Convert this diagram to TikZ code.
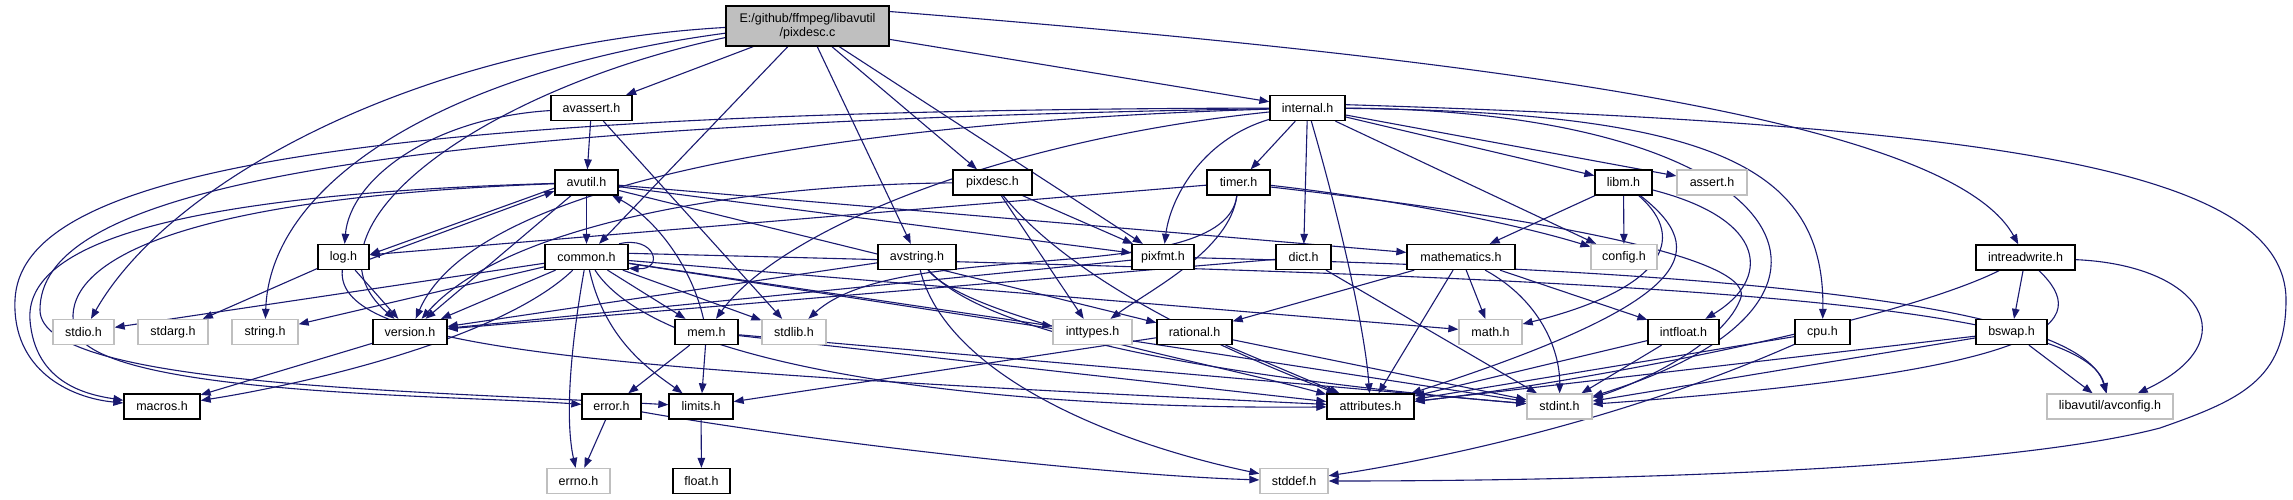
\documentclass[tikz,border=0pt]{standalone}
\usepackage{fontspec}
\setmainfont{Liberation Sans}
\usetikzlibrary{arrows.meta,backgrounds}
\definecolor{edgeblue}{HTML}{191970}
\definecolor{sysgray}{HTML}{BFBFBF}

\begin{document}
\begin{tikzpicture}[x=1pt, y=-1pt,
  hdr/.style={draw=black, line width=1.3pt, fill=white, minimum height=25pt, inner sep=0pt,
    font=\fontsize{12.5}{14}\selectfont},
  sys/.style={hdr, draw=sysgray},
  dep/.style={draw=edgeblue, line width=1.1pt, -{Triangle[length=10pt,width=7.5pt]}}]

% files
\node[hdr, fill=sysgray, minimum width=163pt, minimum height=40pt, align=center] (root) at (807.5,26) {E:/github/ffmpeg/libavutil\\/pixdesc.c};
\node[hdr, minimum width=81pt] (avassert) at (591.5,108) {avassert.h};
\node[hdr, minimum width=75pt] (internal) at (1307.5,108) {internal.h};
\node[hdr, minimum width=63pt] (avutil) at (586.5,182.5) {avutil.h};
\node[hdr, minimum width=79pt] (pixdesc) at (992.5,182.5) {pixdesc.h};
\node[hdr, minimum width=63pt] (timer) at (1238.5,182.5) {timer.h};
\node[hdr, minimum width=57pt] (libm) at (1623.5,182.5) {libm.h};
\node[sys, minimum width=70pt] (assert) at (1712,182.5) {assert.h};
\node[hdr, minimum width=51pt] (logh) at (343.5,257) {log.h};
\node[hdr, minimum width=83pt] (common) at (586.5,257) {common.h};
\node[hdr, minimum width=78pt] (avstring) at (917,257) {avstring.h};
\node[hdr, minimum width=62pt] (pixfmt) at (1163,257) {pixfmt.h};
\node[hdr, minimum width=55pt] (dict) at (1303.5,257) {dict.h};
\node[hdr, minimum width=108pt] (mathem) at (1461,257) {mathematics.h};
\node[sys, minimum width=66pt] (config) at (1624,257) {config.h};
\node[hdr, minimum width=99pt] (intrw) at (2025.5,257.5) {intreadwrite.h};
\node[sys, minimum width=61pt] (stdio) at (83.5,332) {stdio.h};
\node[sys, minimum width=70pt] (stdarg) at (173,332) {stdarg.h};
\node[sys, minimum width=66pt] (string) at (265,332) {string.h};
\node[hdr, minimum width=74pt] (version) at (410,332) {version.h};
\node[hdr, minimum width=63pt] (mem) at (706.5,332) {mem.h};
\node[sys, minimum width=64pt] (stdlib) at (794,332) {stdlib.h};
\node[sys, minimum width=79pt] (inttypes) at (1092.5,332) {inttypes.h};
\node[hdr, minimum width=75pt] (rational) at (1194.5,332) {rational.h};
\node[sys, minimum width=63pt] (math) at (1490.5,332) {math.h};
\node[hdr, minimum width=71pt] (intfloat) at (1683.5,332) {intfloat.h};
\node[hdr, minimum width=55pt] (cpu) at (1822.5,332) {cpu.h};
\node[hdr, minimum width=71pt] (bswap) at (2011.5,332) {bswap.h};
\node[hdr, minimum width=76pt] (macros) at (162,406.5) {macros.h};
\node[hdr, minimum width=59pt] (error) at (611.5,406.5) {error.h};
\node[hdr, minimum width=64pt] (limits) at (701,406.5) {limits.h};
\node[hdr, minimum width=87pt] (attrib) at (1370.5,406.5) {attributes.h};
\node[sys, minimum width=65pt] (stdint) at (1559.5,406.5) {stdint.h};
\node[sys, minimum width=126pt] (avconfig) at (2110,406.5) {libavutil/avconfig.h};
\node[sys, minimum width=63pt] (errno) at (578.5,481) {errno.h};
\node[hdr, minimum width=57pt] (float) at (701.5,481) {float.h};
\node[sys, minimum width=68pt] (stddef) at (1294,481) {stddef.h};

\begin{scope}[on background layer]
\fill[white] (0,0) rectangle (2293,500);
\useasboundingbox (0,0) rectangle (2293,500);

% pixdesc.c
\draw[dep] (root.181) .. controls (420,45) and (170,180) .. (stdio);
\draw[dep] (root.185) .. controls (450,70) and (270,180) .. (string);
\draw[dep] (root.188) .. controls (480,90) and (290,230) .. (version);
\draw[dep] (root) -- (avassert);
\draw[dep] (root) -- (common);
\draw[dep] (root) -- (avstring);
\draw[dep] (root) -- (pixdesc);
\draw[dep] (root) -- (pixfmt);
\draw[dep] (root) -- (internal);
\draw[dep] (root.10) .. controls (1500,60) and (1950,120) .. (intrw);

% avassert.h
\draw[dep] (avassert) -- (avutil);
\draw[dep] (avassert) .. controls (430,118) and (350,180) .. (logh);
\draw[dep] (avassert) -- (stdlib);

% internal.h
\draw[dep] (internal) -- (timer);
\draw[dep] (internal) -- (dict);
\draw[dep] (internal) .. controls (1340,220) and (1365,330) .. (attrib);
\draw[dep] (internal) .. controls (1200,140) and (1170,200) .. (pixfmt);
\draw[dep] (internal) .. controls (1000,140) and (780,230) .. (mem);
\draw[dep] (internal) .. controls (900,120) and (480,170) .. (version);
\draw[dep] (internal) .. controls (300,110) and (20,180) .. (15,300) .. controls (12,370) and (70,398) .. (macros);
\draw[dep] (internal) .. controls (300,125) and (40,200) .. (40,310) .. controls (40,385) and (400,390) .. (limits);
\draw[dep] (internal) -- (libm);
\draw[dep] (internal) -- (assert);
\draw[dep] (internal) -- (config);
\draw[dep] (internal) .. controls (1720,112) and (1825,170) .. (cpu);
\draw[dep] (internal) .. controls (1790,110) and (1905,300) .. (stdint);
\draw[dep] (internal.5) .. controls (2000,125) and (2286,170) .. (2286,300)
  .. controls (2286,380) and (2240,400) .. (2160,428) .. controls (2000,470) and (1600,481) .. (stddef);

% timer.h
\draw[dep] (timer) -- (logh);
\draw[dep] (timer) .. controls (1225,290) and (900,235) .. (stdlib);
\draw[dep] (timer) .. controls (1230,250) and (1150,290) .. (inttypes);
\draw[dep] (timer.-5) .. controls (1400,200) and (1520,225) .. (config);
\draw[dep] (timer.-8) .. controls (1560,220) and (1760,260) .. (1740,300) .. controls (1720,350) and (1620,390) .. (stdint);

% pixdesc.h
\draw[dep] (pixdesc) .. controls (720,185) and (500,230) .. (version);
\draw[dep] (pixdesc) -- (inttypes);
\draw[dep] (pixdesc) -- (pixfmt);
\draw[dep] (pixdesc) .. controls (1080,290) and (1250,360) .. (attrib);

% avutil.h
\draw[dep] (avutil) -- (common);
\draw[dep] (avutil.190) -- (logh.5);
\draw[dep] (logh.-5) -- (avutil.195);
\draw[dep] (avutil) -- (version);
\draw[dep] (avutil) .. controls (150,195) and (25,250) .. (30,320) .. controls (35,385) and (90,395) .. (macros);
\draw[dep] (avutil) .. controls (120,200) and (60,280) .. (75,330) .. controls (95,395) and (450,395) .. (error);
\draw[dep] (avutil) -- (mathem);
\draw[dep] (avutil) -- (pixfmt);
\draw[dep] (avutil) -- (rational);

% log.h
\draw[dep] (logh) -- (stdarg);
\draw[dep] (logh) -- (version);
\draw[dep] (logh) .. controls (335,350) and (600,370) .. (attrib);

% common.h
\draw[dep] (common.22) .. controls (655,235) and (665,270) .. (common.-15);
\draw[dep] (common) .. controls (570,350) and (565,420) .. (errno);
\draw[dep] (common) .. controls (605,340) and (650,370) .. (limits);
\draw[dep] (common) -- (mem);
\draw[dep] (common) -- (stdlib);
\draw[dep] (common) -- (inttypes);
\draw[dep] (common) -- (math);
\draw[dep] (common) -- (stdint);
\draw[dep] (common) .. controls (660,370) and (1000,410) .. (attrib);
\draw[dep] (common.5) .. controls (1500,275) and (2080,290) .. (avconfig);
\draw[dep] (common) -- (version);
\draw[dep] (common) .. controls (500,340) and (300,385) .. (macros);
\draw[dep] (common) -- (stdio);
\draw[dep] (common) -- (string);

% mem.h
\draw[dep] (mem) .. controls (690,260) and (650,215) .. (avutil);
\draw[dep] (mem) -- (error);
\draw[dep] (mem) -- (limits);
\draw[dep] (mem) -- (attrib);
\draw[dep] (mem) -- (stdint);

% avstring.h
\draw[dep] (avstring) -- (version);
\draw[dep] (avstring) .. controls (945,370) and (1100,440) .. (stddef);
\draw[dep] (avstring) .. controls (990,340) and (1250,380) .. (stdint);
\draw[dep] (avstring) .. controls (970,320) and (1200,360) .. (attrib);

% pixfmt.h, dict.h
\draw[dep] (pixfmt) -- (version);
\draw[dep] (pixfmt) .. controls (1700,270) and (2080,300) .. (avconfig);
\draw[dep] (dict) -- (version);
\draw[dep] (dict) -- (stdint);

% mathematics.h
\draw[dep] (mathem) -- (rational);
\draw[dep] (mathem) -- (math);
\draw[dep] (mathem) -- (attrib);
\draw[dep] (mathem) .. controls (1540,300) and (1560,350) .. (stdint);
\draw[dep] (mathem) -- (intfloat);

% rational.h, intfloat.h, cpu.h
\draw[dep] (rational) -- (limits);
\draw[dep] (rational) -- (attrib);
\draw[dep] (rational) -- (stdint);
\draw[dep] (intfloat) -- (attrib);
\draw[dep] (intfloat) -- (stdint);
\draw[dep] (cpu) -- (attrib);
\draw[dep] (cpu) .. controls (1600,430) and (1400,465) .. (stddef);

% libm.h
\draw[dep] (libm) -- (mathem);
\draw[dep] (libm) -- (config);
\draw[dep] (libm) .. controls (1770,220) and (1770,280) .. (intfloat);
\draw[dep] (libm) .. controls (1690,240) and (1660,290) .. (math);
\draw[dep] (libm) .. controls (1710,250) and (1700,300) .. (attrib);

% intreadwrite.h, bswap.h
\draw[dep] (intrw) -- (bswap);
\draw[dep] (intrw) .. controls (2200,265) and (2250,340) .. (avconfig);
\draw[dep] (intrw) .. controls (1900,320) and (1600,380) .. (attrib);
\draw[dep] (intrw) .. controls (2090,320) and (2070,370) .. (stdint);
\draw[dep] (bswap) -- (attrib);
\draw[dep] (bswap) -- (stdint);
\draw[dep] (bswap) -- (avconfig);

% the rest
\draw[dep] (version) -- (macros);
\draw[dep] (error) -- (errno);
\draw[dep] (error) .. controls (800,440) and (1100,475) .. (stddef);
\draw[dep] (limits) -- (float);
\end{scope}
\end{tikzpicture}
\end{document}
